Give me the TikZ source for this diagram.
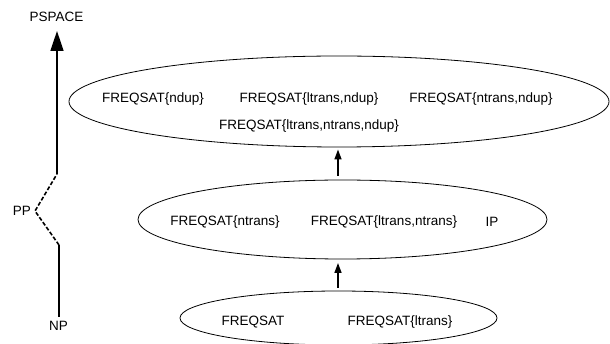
\documentclass[tikz,border=0pt]{standalone}
\usepackage{fontspec}
\setmainfont{Liberation Sans}
\usetikzlibrary{shapes.geometric,arrows.meta}
\begin{document}
\begin{tikzpicture}[x=1pt,y=-1pt,
  every node/.style={font=\fontsize{13.5}{16}\selectfont},
  label/.style={inner sep=0pt},
  group/.style={draw, ellipse, inner sep=0pt, outer sep=0pt, line width=0.8pt},
  uparrow/.style={line width=1.6pt, -{Triangle[length=10pt,width=7pt]}},
  bigarrow/.style={line width=1.6pt, -{Triangle[length=20pt,width=13pt]}},
  hierline/.style={line width=1.6pt},
  hierdash/.style={line width=1.6pt, dash pattern=on 4pt off 2pt}]
\useasboundingbox (0,0) rectangle (610,344);
% ellipses
\node[group, minimum width=540pt, minimum height=91pt] (top) at (339,101.5) {};
\node[group, minimum width=409pt, minimum height=79pt] (mid) at (342.5,219.5) {};
\node[group, minimum width=317pt, minimum height=54pt] (bot) at (338.5,318) {};
% texts in top
\node[label] (t1) at (153,99) {FREQSAT\{ndup\}};
\node[label] (t2) at (309,99) {FREQSAT\{ltrans,ndup\}};
\node[label] (t3) at (481,99) {FREQSAT\{ntrans,ndup\}};
\node[label] (t4) at (309,126) {FREQSAT\{ltrans,ntrans,ndup\}};
% texts in middle
\node[label] (m1) at (225,222) {FREQSAT\{ntrans\}};
\node[label] (m2) at (384,222) {FREQSAT\{ltrans,ntrans\}};
\node[label] (m3) at (492,222) {IP};
% texts in bottom
\node[label] (b1) at (253,322) {FREQSAT};
\node[label] (b2) at (400,322) {FREQSAT\{ltrans\}};
% arrows between ellipses
\coordinate (a1s) at (338,288);
\coordinate (a2s) at (338,176);
\draw[uparrow, shorten >=4pt] (a1s) -- (a1s |- mid.south);
\draw[uparrow, shorten >=2.5pt] (a2s) -- (a2s |- top.south);
% complexity line
\node[label] (pspace) at (56.5,17) {PSPACE};
\node[label, anchor=east] (pp) at (31,211) {PP};
\node[label] (np) at (58.5,326) {NP};
\coordinate (c1) at (57,174);
\coordinate (ppc) at (35,211);
\coordinate (c2) at (59,245);
\coordinate (npc) at (59,317);
\coordinate (psc) at (57,31);
\draw[hierline] (npc) -- (c2);
\draw[hierdash] (c2) -- (ppc) -- (c1);
\draw[bigarrow] (c1) -- (psc);
\end{tikzpicture}
\end{document}
